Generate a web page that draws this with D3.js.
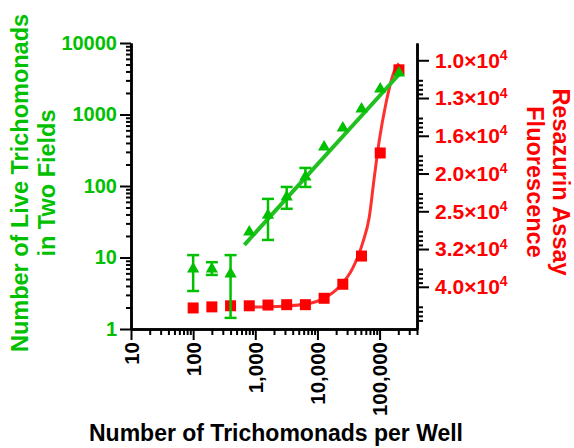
<!DOCTYPE html>
<html>
<head>
<meta charset="utf-8">
<script src="https://cdn.jsdelivr.net/npm/d3@7"></script>
<style>
    body { margin: 0; background: #fff; }
    text { font-family: "Liberation Sans", Arial, sans-serif; font-weight: bold; }
</style>
</head>
<body>
<div class="container"></div>
<script>
// number of trichomonads seeded per well
const cells = [100, 200, 400, 800, 1600, 3200, 6400, 12800, 25600, 51200, 102400, 204800];
// live trichomonads counted in two fields (mean, error bar ends)
const liveMean = [6.9, 6.9, 5.9, 22.7, 39, 70, 134, 351, 648, 1194, 2275, 3800];
const liveLow = [3.4, 5.7, 1.43, null, 17.6, 48, 97, null, null, null, null, null];
const liveHigh = [10.8, 8.6, 10.8, null, 66, 97, 179, null, null, null, null, null];
// resazurin fluorescence
const fluor = [45300, 45000, 44700, 44700, 44500, 44400, 44400, 42700, 39200, 33000, 17600, 10600];

// fitted curves
const liveFitX = [668, 223000];
const liveFitY = [15.0, 3930];
const fluorFitX = [711, 2750, 6560, 12100, 22500, 36800, 53300, 68300, 82200, 98900, 126700, 172000, 204800];
const fluorFitY = [45100, 44800, 44200, 42900, 39800, 35600, 30500, 26000, 20400, 16300, 13000, 10700, 10200];

// ticks
const xTicks = [10, 100, 1000, 10000, 100000];
const xTickLabels = ["10", "100", "1,000", "10,000", "100,000"];
const leftTicks = [1, 10, 100, 1000, 10000];
const leftTickLabels = ["1", "10", "100", "1000", "10000"];
const rightTicks = [10000, 12589, 15849, 19953, 25119, 31623, 39811];
const rightTickLabels = ["1.0", "1.3", "1.6", "2.0", "2.5", "3.2", "4.0"];

const green = "#00c000";
const red = "#ff0000";

const w = 574;
const h = 448;
const mLeft = 131, mRight = 417, mTop = 43, mBottom = 329;

const x = d3.scaleLog().domain([10, 400000]).range([mLeft, mRight]);
const yL = d3.scaleLog().domain([1, 10000]).range([mBottom, mTop]);
const yR = d3.scaleLog().domain([9000, 51500]).range([mTop, mBottom]);

const svg = d3
    .select(".container")
    .append("svg")
    .attr("width", w)
    .attr("height", h);

svg.append("rect").attr("width", w).attr("height", h).attr("fill", "#fff");

// minor tick values
const minors = (from, to) => {
    const out = [];
    for (let p = from; p <= to; p++) {
        for (let m = 2; m <= 9; m++) out.push(m * Math.pow(10, p));
    }
    return out;
};
const xMinor = minors(1, 4).concat([200000, 300000, 400000]);
const leftMinor = minors(0, 3);
const rightMinor = [];
for (let k = 0; k < 7; k++) {
    const a = Math.log10(rightTicks[k]);
    [0.53, 0.65, 0.77, 0.89].forEach((f) => rightMinor.push(Math.pow(10, a + 0.1 * f)));
}

const styleAxis = (g) => {
    g.attr("font-family", null).attr("font-size", null);
    g.select(".domain").attr("stroke", "#000").attr("stroke-width", 2.5);
    g.selectAll(".tick line").attr("stroke", "#000").attr("stroke-width", 2);
};

// minor ticks
svg.append("g")
    .attr("transform", `translate(0, ${mBottom})`)
    .call(d3.axisBottom(x).tickValues(xMinor).tickFormat("").tickSize(6).tickSizeOuter(0))
    .call(styleAxis);
svg.append("g")
    .attr("transform", `translate(${mLeft}, 0)`)
    .call(d3.axisLeft(yL).tickValues(leftMinor).tickFormat("").tickSize(5).tickSizeOuter(0))
    .call(styleAxis);
svg.append("g")
    .attr("transform", `translate(${mRight}, 0)`)
    .call(d3.axisRight(yR).tickValues(rightMinor).tickFormat("").tickSize(6).tickSizeOuter(0))
    .call(styleAxis);

// x axis
const xAxis = svg.append("g")
    .attr("transform", `translate(0, ${mBottom})`)
    .call(d3.axisBottom(x).tickValues(xTicks).tickFormat((d, i) => xTickLabels[i]).tickSize(11).tickSizeOuter(0))
    .call(styleAxis);
xAxis.selectAll(".tick text")
    .attr("y", 0)
    .attr("x", -13)
    .attr("dy", "0.36em")
    .attr("transform", "rotate(-90)")
    .attr("text-anchor", "end")
    .attr("fill", "#000")
    .attr("font-size", 20.5);

// left axis
const leftAxis = svg.append("g")
    .attr("transform", `translate(${mLeft}, 0)`)
    .call(d3.axisLeft(yL).tickValues(leftTicks).tickFormat((d, i) => leftTickLabels[i]).tickSize(11).tickSizeOuter(0))
    .call(styleAxis);
leftAxis.selectAll(".tick text").attr("fill", green).attr("font-size", 20);

// right axis with superscript exponents
const rightAxis = svg.append("g")
    .attr("transform", `translate(${mRight}, 0)`)
    .call(d3.axisRight(yR).tickValues(rightTicks).tickFormat("").tickSize(12).tickPadding(6).tickSizeOuter(0))
    .call(styleAxis);
rightAxis.selectAll(".tick text")
    .attr("fill", red)
    .attr("font-size", 21)
    .each(function (d, i) {
        const t = d3.select(this);
        t.append("tspan").text(rightTickLabels[i] + "×10");
        t.append("tspan").attr("font-size", 14).attr("dy", "-0.55em").text("4");
    });

// fluorescence curve and points
const line = d3.line().curve(d3.curveMonotoneX);
svg.append("path")
    .attr("d", line(fluorFitX.map((v, i) => [x(v), yR(fluorFitY[i])])))
    .attr("fill", "none")
    .attr("stroke", "#ff3030")
    .attr("stroke-width", 3);

svg.selectAll("rect.sq")
    .data(cells)
    .enter()
    .append("rect")
    .attr("class", "sq")
    .attr("x", (d) => x(d) - 5.5)
    .attr("y", (d, i) => yR(fluor[i]) - 5.5)
    .attr("width", 11)
    .attr("height", 11)
    .attr("fill", red);

// live count fit line
svg.append("path")
    .attr("d", d3.line()(liveFitX.map((v, i) => [x(v), yL(liveFitY[i])])))
    .attr("fill", "none")
    .attr("stroke", "#20c020")
    .attr("stroke-width", 4);

// error bars
const bars = cells
    .map((c, i) => ({ c, lo: liveLow[i], hi: liveHigh[i] }))
    .filter((d) => d.lo !== null);
const eb = svg.append("g").attr("stroke", green).attr("stroke-width", 2.5);
eb.selectAll("line.v")
    .data(bars)
    .enter()
    .append("line")
    .attr("x1", (d) => x(d.c))
    .attr("x2", (d) => x(d.c))
    .attr("y1", (d) => yL(d.lo))
    .attr("y2", (d) => yL(d.hi));
eb.selectAll("line.lo")
    .data(bars)
    .enter()
    .append("line")
    .attr("x1", (d) => x(d.c) - 6)
    .attr("x2", (d) => x(d.c) + 6)
    .attr("y1", (d) => yL(d.lo))
    .attr("y2", (d) => yL(d.lo));
eb.selectAll("line.hi")
    .data(bars)
    .enter()
    .append("line")
    .attr("x1", (d) => x(d.c) - 6)
    .attr("x2", (d) => x(d.c) + 6)
    .attr("y1", (d) => yL(d.hi))
    .attr("y2", (d) => yL(d.hi));

svg.selectAll("path.tri")
    .data(cells)
    .enter()
    .append("path")
    .attr("class", "tri")
    .attr("d", d3.symbol().type(d3.symbolTriangle).size(65))
    .attr("transform", (d, i) => `translate(${x(d)}, ${yL(liveMean[i])})`)
    .attr("fill", green);

// titles
svg.append("text")
    .attr("x", 276)
    .attr("y", 441)
    .attr("text-anchor", "middle")
    .attr("font-size", 23)
    .attr("fill", "#000")
    .text("Number of Trichomonads per Well");

const lt = svg.append("g")
    .attr("transform", "translate(0, 183) rotate(-90)")
    .attr("fill", green)
    .attr("font-size", 23.5)
    .attr("text-anchor", "middle");
lt.append("text").attr("y", 28).text("Number of Live Trichomonads");
lt.append("text").attr("y", 55).text("in Two Fields");

const rt = svg.append("g")
    .attr("transform", "translate(0, 182) rotate(90)")
    .attr("fill", red)
    .attr("font-size", 23.5)
    .attr("text-anchor", "middle");
rt.append("text").attr("y", -553).text("Resazurin Assay");
rt.append("text").attr("y", -527).text("Fluorescence");
</script>
</body>
</html>
